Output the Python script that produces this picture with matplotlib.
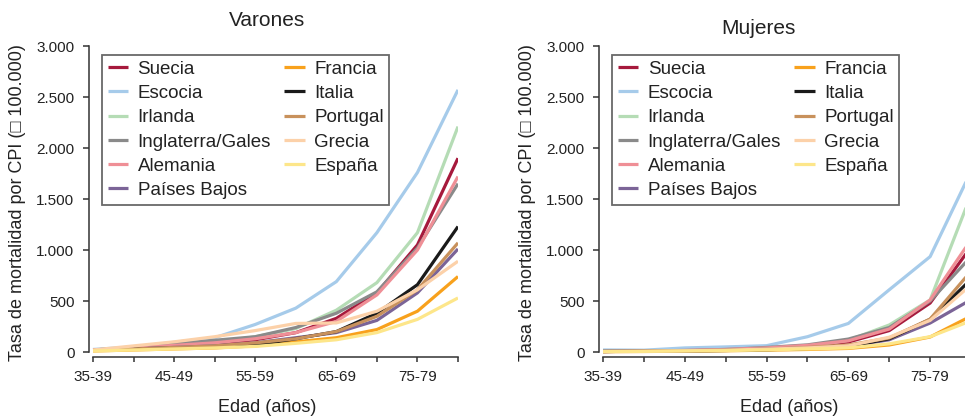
import matplotlib
matplotlib.use("Agg")
import matplotlib.pyplot as plt
import numpy as np

plt.rcParams["font.family"] = ["Liberation Sans", "DejaVu Sans"]

TEXT = "#222222"
AXIS = "#333333"

ages = ["35-39", "40-44", "45-49", "50-54", "55-59",
        "60-64", "65-69", "70-74", "75-79", "80-84"]
countries = ["Suecia", "Escocia", "Irlanda", "Inglaterra/Gales", "Alemania",
             "Países Bajos", "Francia", "Italia", "Portugal", "Grecia", "España"]
colors = ["#a6193c", "#a6cbea", "#b5dcb5", "#8a8a8a", "#ef8f96",
          "#7b6497", "#f8a11c", "#1a1a1a", "#c8915c", "#fcd1a9", "#fde68a"]

nan = np.nan
varones = {
    "Suecia":           [20, 40, 60, 80, 120, 190, 330, 580, 1050, 1900],
    "Escocia":          [25, 50, 95, 140, 270, 430, 690, 1170, 1760, 2570],
    "Irlanda":          [20, 40, 60, 90, 150, 230, 410, 680, 1170, 2210],
    "Inglaterra/Gales": [20, 45, 80, 115, 150, 240, 380, 590, 1020, 1650],
    "Alemania":         [20, 40, 65, 90, 130, 190, 300, 560, 1000, 1720],
    "Países Bajos":     [15, 30, 45, 60, 90, 140, 190, 310, 580, 1010],
    "Francia":          [10, 20, 30, 40, 60, 100, 140, 220, 400, 740],
    "Italia":           [nan, 30, 40, 50, 70, 130, 200, 380, 660, 1230],
    "Portugal":         [15, 30, 45, 60, 90, 130, 200, 350, 610, 1070],
    "Grecia":           [20, 60, 100, 150, 210, 280, 285, 400, 610, 890],
    "España":           [10, 20, 30, 40, 55, 85, 120, 190, 320, 530],
}
mujeres = {
    "Suecia":           [5, 8, 12, 20, 35, 60, 98, 210, 480, 1030],
    "Escocia":          [20, 18, 40, 50, 62, 150, 280, 610, 935, 1770],
    "Irlanda":          [5, 8, 12, 20, 35, 55, 115, 265, 510, 1540],
    "Inglaterra/Gales": [8, 10, 15, 25, 45, 70, 127, 240, 500, 935],
    "Alemania":         [5, 10, 15, 25, 40, 65, 110, 225, 510, 1100],
    "Países Bajos":     [5, 8, 12, 18, 28, 40, 55, 120, 284, 513],
    "Francia":          [3, 5, 8, 12, 18, 25, 35, 69, 147, 352],
    "Italia":           [5, 8, 10, 15, 22, 35, 55, 130, 320, 713],
    "Portugal":         [5, 8, 12, 18, 28, 45, 69, 137, 323, 792],
    "Grecia":           [5, 8, 12, 18, 28, 40, 60, 145, 310, 658],
    "España":           [5, 6, 10, 14, 20, 30, 40, 80, 150, 306],
}

yticks = [0, 500, 1000, 1500, 2000, 2500, 3000]
ytick_labels = ["0", "500", "1.000", "1.500", "2.000", "2.500", "3.000"]
ylabel = "Tasa de mortalidad por CPI (\u25a1 100.000)"

W, H = 965, 416
fig = plt.figure(figsize=(W / 100, H / 100), dpi=100)


def panel(left_px, right_px, data, legend_x):
    ax = fig.add_axes([left_px / W, (H - 357) / H, (right_px - left_px) / W, (357 - 46) / H])
    x = np.arange(len(ages))
    for name, col in zip(countries, colors):
        ax.plot(x, data[name], color=col, lw=2.3, label=name, solid_capstyle="butt")
    ax.set_xlim(-0.1, 9)
    ax.set_ylim(-49, 3000)
    for s in ("top", "right"):
        ax.spines[s].set_visible(False)
    ax.spines["left"].set_bounds(0, 3000)
    ax.spines["bottom"].set_bounds(0, 9)
    for s in ("left", "bottom"):
        ax.spines[s].set_color(AXIS)
        ax.spines[s].set_linewidth(1.1)
    ax.set_xticks(x)
    ax.set_xticklabels([a if i % 2 == 0 else "" for i, a in enumerate(ages)])
    ax.set_yticks(yticks)
    ax.set_yticklabels(ytick_labels)
    ax.tick_params(axis="both", colors=AXIS, labelcolor=TEXT, labelsize=11,
                   width=1.1, direction="out")
    ax.tick_params(axis="y", length=4.5, pad=6)
    ax.tick_params(axis="x", length=3.5, pad=6)
    leg = ax.legend(ncol=2, loc="upper left", bbox_to_anchor=(legend_x, 0.971),
                    borderaxespad=0, fontsize=13.5, frameon=True, fancybox=False,
                    edgecolor="#444444", handlelength=1.1, handletextpad=0.5,
                    columnspacing=0.7, labelspacing=0.38, borderpad=0.3)
    leg.get_frame().set_linewidth(1.3)
    for t in leg.get_texts():
        t.set_color(TEXT)
    return ax


panel(89, 458, varones, 0.035)
panel(599, 971, mujeres, 0.035)

fig.text(267 / W, 1 - 20 / H, "Varones", ha="center", va="center", fontsize=15, color=TEXT)
fig.text(758 / W, 1 - 28 / H, "Mujeres", ha="center", va="center", fontsize=15, color=TEXT)
fig.text(267 / W, 1 - 407 / H, "Edad (años)", ha="center", va="center", fontsize=13, color=TEXT)
fig.text(789 / W, 1 - 407 / H, "Edad (años)", ha="center", va="center", fontsize=13, color=TEXT)
fig.text(18 / W, 1 - 203 / H, ylabel, ha="center", va="center", rotation=90, fontsize=13, color=TEXT)
fig.text(528 / W, 1 - 203 / H, ylabel, ha="center", va="center", rotation=90, fontsize=13, color=TEXT)

fig.savefig("out.png", dpi=100)
